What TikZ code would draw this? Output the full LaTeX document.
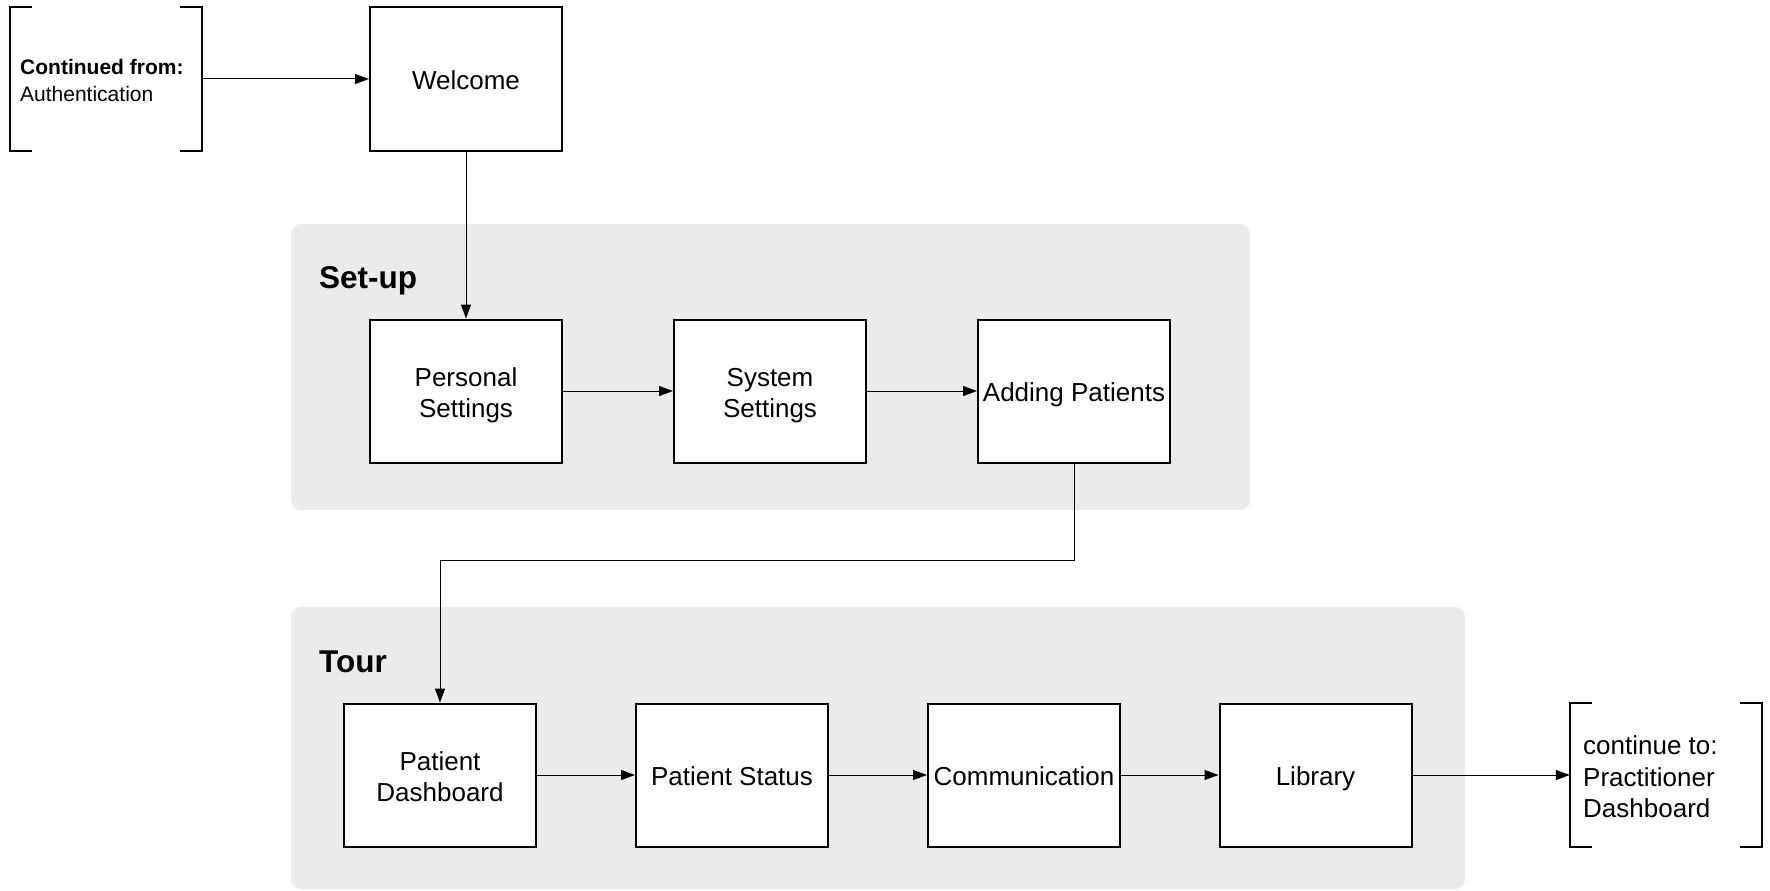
\documentclass[tikz,border=0pt]{standalone}
\usepackage{fontspec}
\setmainfont{Liberation Sans}
\usetikzlibrary{arrows.meta}
\definecolor{regiongray}{HTML}{EBEBEB}
\newcommand\boxtext[1]{\raisebox{0pt}[\dimexpr\height+9pt\relax][\depth]{\begin{tabular}{@{}c@{}}#1\end{tabular}}}
\begin{document}
\begin{tikzpicture}[x=1pt,y=-1pt,
  stepbox/.style={draw,line width=2pt,minimum width=192pt,minimum height=143pt,
    align=center,inner sep=0pt,fill=white,font=\fontsize{26}{31}\selectfont},
  conn/.style={line width=1pt,-{Triangle[length=14pt,width=10pt]}},
  region/.style={fill=regiongray,rounded corners=10pt},
  regionlabel/.style={anchor=west,inner sep=0pt,font=\bfseries\fontsize{31.5}{36}\selectfont},
  bracketnode/.style={minimum width=192pt,minimum height=143pt,inner sep=0pt},
  bracketline/.style={line width=2pt}]
\useasboundingbox (0,0) rectangle (1770,891);
% regions
\path[region] (291,224) rectangle (1250,510);
\path[region] (291,607) rectangle (1465,889);
\node[regionlabel] (setuplbl) at (319,281) {Set-up};
\node[regionlabel] (tourlbl) at (319,662) {Tour};
% bracket nodes
\node[bracketnode] (from) at (106,79) {};
\node[anchor=west,align=left,inner sep=0pt,font=\fontsize{21}{27}\selectfont] (fromtxt) at (20,80)
  {\textbf{Continued from:}\\Authentication};
\draw[bracketline] ([xshift=22pt]from.north west) -- (from.north west) -- (from.south west) -- ([xshift=22pt]from.south west);
\draw[bracketline] ([xshift=-22pt]from.north east) -- (from.north east) -- (from.south east) -- ([xshift=-22pt]from.south east);
\node[bracketnode] (to) at (1666,775) {};
\node[anchor=west,align=left,inner sep=0pt,font=\fontsize{26}{31.5}\selectfont] (totxt) at (1583,777)
  {continue to:\\Practitioner\\Dashboard};
\draw[bracketline] ([xshift=22pt]to.north west) -- (to.north west) -- (to.south west) -- ([xshift=22pt]to.south west);
\draw[bracketline] ([xshift=-22pt]to.north east) -- (to.north east) -- (to.south east) -- ([xshift=-22pt]to.south east);
% boxes
\node[stepbox] (welcome) at (466,79) {\boxtext{Welcome}};
\node[stepbox] (personal) at (466,391) {\boxtext{Personal\\Settings}};
\node[stepbox] (system) at (770,391) {\boxtext{System\\Settings}};
\node[stepbox] (adding) at (1074,391) {\boxtext{Adding Patients}};
\node[stepbox] (pd) at (440,775) {\boxtext{Patient\\Dashboard}};
\node[stepbox] (ps) at (732,775) {\boxtext{Patient Status}};
\node[stepbox] (comm) at (1024,775) {\boxtext{Communication}};
\node[stepbox] (lib) at (1315.5,775) {\boxtext{Library}};
% connectors
\draw[conn] (from.east) -- (welcome.west);
\draw[conn] (welcome.south) -- (personal.north);
\draw[conn] (personal.east) -- (system.west);
\draw[conn] (system.east) -- (adding.west);
\draw[conn] (adding.south) -- ++(0,97) -| (pd.north);
\draw[conn] (pd.east) -- (ps.west);
\draw[conn] (ps.east) -- (comm.west);
\draw[conn] (comm.east) -- (lib.west);
\draw[conn] (lib.east) -- (to.west);
\end{tikzpicture}
\end{document}
